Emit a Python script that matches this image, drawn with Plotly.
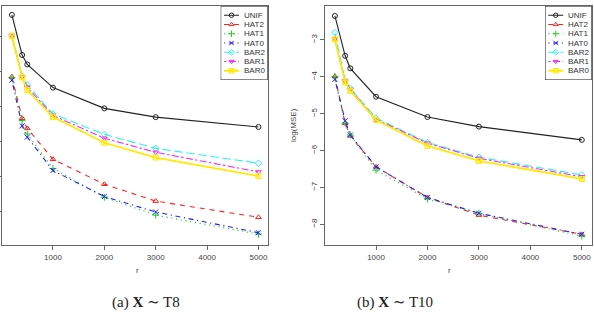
import plotly.graph_objects as go

r = [200, 400, 500, 1000, 2000, 3000, 5000]
names = ["UNIF", "HAT2", "HAT1", "HAT0", "BAR2", "BAR1", "BAR0"]

t8_unif = [-2.40, -3.54, -3.81, -4.47, -5.06, -5.31, -5.59]
t8_hat2 = [-4.16, -5.34, -5.63, -6.51, -7.22, -7.70, -8.16]
t8_hat1 = [-4.19, -5.41, -5.79, -6.77, -7.59, -8.10, -8.64]
t8_hat0 = [-4.26, -5.56, -5.88, -6.83, -7.57, -8.01, -8.60]
t8_bar2 = [-3.00, -4.14, -4.39, -5.22, -5.80, -6.20, -6.62]
t8_bar1 = [-3.00, -4.16, -4.46, -5.26, -5.91, -6.31, -6.87]
t8_bar0 = [-3.00, -4.18, -4.54, -5.31, -6.04, -6.46, -6.99]

t10_unif = [-2.35, -3.43, -3.77, -4.54, -5.09, -5.35, -5.71]
t10_hat2 = [-3.99, -5.26, -5.60, -6.44, -7.27, -7.75, -8.27]
t10_hat1 = [-3.99, -5.26, -5.58, -6.53, -7.31, -7.70, -8.32]
t10_hat0 = [-4.07, -5.19, -5.58, -6.44, -7.27, -7.70, -8.27]
t10_bar2 = [-2.80, -4.11, -4.31, -5.12, -5.78, -6.18, -6.66]
t10_bar1 = [-2.98, -4.11, -4.34, -5.15, -5.80, -6.21, -6.71]
t10_bar0 = [-2.98, -4.15, -4.38, -5.17, -5.87, -6.28, -6.77]

x_ticks = [1000, 2000, 3000, 4000, 5000]
y_ticks = [-3, -4, -5, -6, -7, -8]

t8 = [t8_unif, t8_hat2, t8_hat1, t8_hat0, t8_bar2, t8_bar1, t8_bar0]
t10 = [t10_unif, t10_hat2, t10_hat1, t10_hat0, t10_bar2, t10_bar1, t10_bar0]

colors = ["#222222", "#FF2020", "#20CD20", "#2020FF", "#30F0F0", "#F030F0", "#FFEA00"]
symbols = ["circle-open", "triangle-up-open", "cross-thin-open", "x-thin-open",
           "diamond-open", "triangle-down-open", "square-x-open"]
dashes = ["solid", "5px,5px", "1.2px,3.6px", "1.2px,3.6px,5px,3.6px",
          "8.5px,3.6px", "2.4px,2.4px,7px,2.4px", "solid"]
widths = [1.1, 1.1, 1.1, 1.1, 1.1, 1.1, 1.8]
msize = 5

W, H = 594, 336
def px(x):
    return x / W
def py(y):
    return 1 - y / H

fig = go.Figure()

for panel, data in ((1, t8), (2, t10)):
    xa = "x" if panel == 1 else "x2"
    ya = "y" if panel == 1 else "y2"
    for i, name in enumerate(names):
        fig.add_trace(go.Scatter(
            x=r, y=data[i], mode="lines+markers", name=name, showlegend=False,
            xaxis=xa, yaxis=ya,
            line=dict(color=colors[i], width=widths[i], dash=dashes[i]),
            marker=dict(symbol=symbols[i], size=msize, color=colors[i],
                        line=dict(color=colors[i], width=1)),
        ))

# custom compact legends (R style)
nrow = len(names)
for leg, (xa, ya) in enumerate((("x3", "y3"), ("x4", "y4"))):
    for i, name in enumerate(names):
        yy = 1 - (i + 1) / (nrow + 1)
        fig.add_trace(go.Scatter(
            x=[0.07, 0.39], y=[yy, yy], mode="lines", showlegend=False,
            xaxis=xa, yaxis=ya, hoverinfo="skip",
            line=dict(color=colors[i], width=widths[i], dash=dashes[i]),
        ))
        fig.add_trace(go.Scatter(
            x=[0.23], y=[yy], mode="markers", showlegend=False,
            xaxis=xa, yaxis=ya, hoverinfo="skip",
            marker=dict(symbol=symbols[i], size=msize - 0.5, color=colors[i],
                        line=dict(color=colors[i], width=1)),
        ))
        fig.add_annotation(x=0.46, y=yy, xref=xa, yref=ya, text=name,
                           showarrow=False, xanchor="left", yanchor="middle",
                           font=dict(size=8, color="#333333"))
    fig.add_shape(type="rect", x0=0, x1=1, y0=0, y1=1, xref=xa, yref=ya,
                  line=dict(color="#111111", width=1), fillcolor="white",
                  layer="below")

axis_common = dict(showgrid=False, zeroline=False, showline=True, mirror=True,
                   linecolor="#666666", linewidth=1, ticks="outside",
                   ticklen=4, tickcolor="#666666", automargin=False,
                   tickfont=dict(size=8, color="#444444"))

plot_y = [py(245), py(6)]
fig.update_layout(
    width=W, height=H, margin=dict(l=0, r=0, t=0, b=0),
    template="none", paper_bgcolor="white", plot_bgcolor="white",
    font=dict(family="Liberation Sans, Arial, sans-serif"),
    xaxis=dict(domain=[px(2), px(268.3)], range=[8, 5192], tickvals=x_ticks,
               **axis_common),
    yaxis=dict(domain=plot_y, range=[-8.95, -2.146], tickvals=y_ticks,
               tickangle=-90, showticklabels=False, **axis_common),
    xaxis2=dict(domain=[px(325), px(591.7)], range=[8, 5192], tickvals=x_ticks,
                anchor="y2", **axis_common),
    yaxis2=dict(domain=plot_y, range=[-8.56, -2.08], tickvals=y_ticks,
                tickangle=-90, anchor="x2", **axis_common),
    xaxis3=dict(domain=[px(220.7), px(267.7)], range=[0, 1], visible=False,
                fixedrange=True, anchor="y3"),
    yaxis3=dict(domain=[py(80), py(6)], range=[0, 1], visible=False,
                fixedrange=True, anchor="x3"),
    xaxis4=dict(domain=[px(545), px(591.7)], range=[0, 1], visible=False,
                fixedrange=True, anchor="y4"),
    yaxis4=dict(domain=[py(80), py(6)], range=[0, 1], visible=False,
                fixedrange=True, anchor="x4"),
)

# axis titles
fig.add_annotation(x=px(134), y=py(277), xref="paper", yref="paper", text="r",
                   showarrow=False, font=dict(size=8, color="#444444"))
fig.add_annotation(x=px(453), y=py(277), xref="paper", yref="paper", text="r",
                   showarrow=False, font=dict(size=8, color="#444444"))
fig.add_annotation(x=px(293), y=py(125), xref="paper", yref="paper",
                   text="log(MSE)", textangle=-90, showarrow=False,
                   font=dict(size=8, color="#444444"))

# captions
cap_font = dict(family="Liberation Serif, DejaVu Serif, serif", size=15,
                color="#222222")
fig.add_annotation(x=px(110), y=py(313), xref="paper", yref="paper",
                   text="(a) <b>X</b> ∼ T8", showarrow=False, font=cap_font)
fig.add_annotation(x=px(395), y=py(313), xref="paper", yref="paper",
                   text="(b) <b>X</b> ∼ T10", showarrow=False, font=cap_font)

fig.write_html("out.html")
